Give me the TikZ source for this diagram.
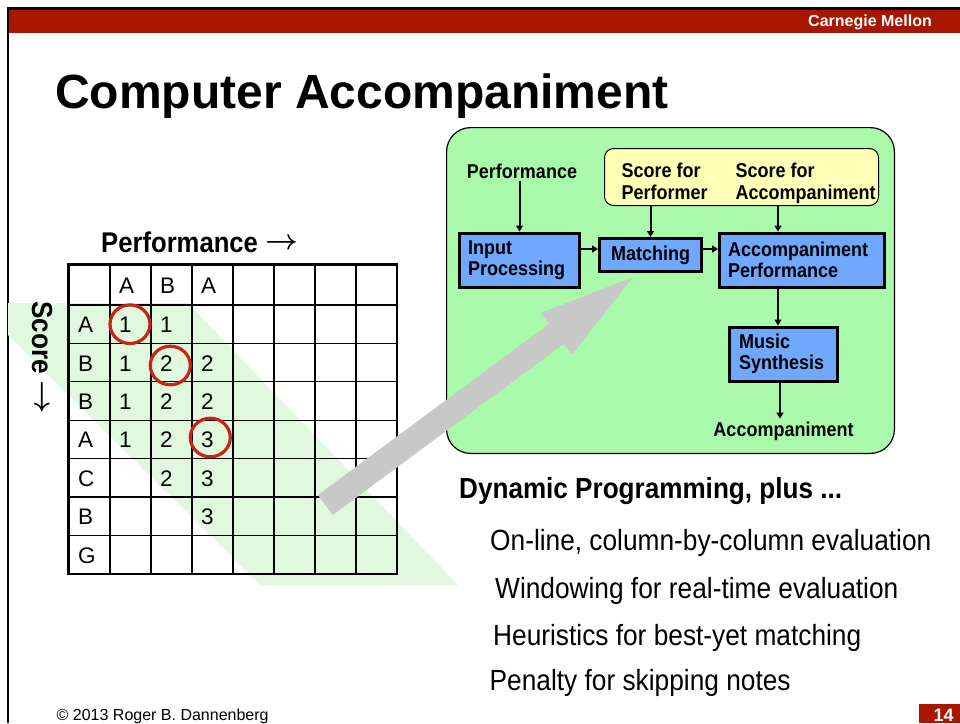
\RequirePackage{fix-cm}
\documentclass[tikz,border=0pt]{standalone}
\usepackage{fontspec}
\setmainfont{Liberation Sans}
\newfontfamily\cond{Liberation Sans}[FakeStretch=0.9]
\usetikzlibrary{arrows.meta}
\definecolor{cmured}{RGB}{168,22,0}
\definecolor{bandgreen}{RGB}{224,248,222}
\definecolor{boxgreen}{RGB}{170,250,172}
\definecolor{boxyellow}{RGB}{255,255,182}
\definecolor{boxblue}{RGB}{112,168,255}
\definecolor{circred}{RGB}{200,35,20}
\definecolor{arrowgray}{RGB}{200,200,200}
\newcommand{\bigarr}{\raisebox{2.5pt}{\boldmath$\rightarrow$}}
\begin{document}
\begin{tikzpicture}[x=1pt,y=-1pt,
  cell/.style={anchor=base west, inner sep=0pt, font=\fontsize{22.5}{24}\selectfont},
  blk/.style={draw=black, line width=3pt, fill=boxblue, font=\cond\bfseries\fontsize{20}{20.5}\selectfont, align=left, inner xsep=8.5pt, inner ysep=0pt, minimum height=54pt},
  lbl/.style={font=\cond\bfseries\fontsize{20}{21.7}\selectfont, inner sep=0pt, outer sep=3pt},
  flow/.style={line width=2pt, -{Triangle[length=6pt,width=7pt]}},
  bodytext/.style={anchor=base west, inner sep=0pt, font=\cond\fontsize{29.2}{30}\selectfont},
  ring/.style={draw=circred, line width=3.2pt}
]
\fill[white] (0,0) rectangle (960,723);
\useasboundingbox (0,0) rectangle (960,723);
% header bar and frame
\fill[cmured] (8.7,10) rectangle (960,33);
\draw[line width=2.7pt] (6.7,8.7) -- (960,8.7);
\draw[line width=2pt] (7.7,7.3) -- (7.7,723);
\node[anchor=base east, inner sep=0pt, text=white, font=\bfseries\fontsize{16}{16}\selectfont] (cmu) at (932,26.7) {Carnegie Mellon};
\node[anchor=base west, inner sep=0pt, font=\bfseries\fontsize{48}{48}\selectfont] (title) at (55,108.3) {Computer Accompaniment};

% diagonal band
\fill[bandgreen] (8,303) -- (188,303) -- (458,585) -- (260,585) -- (8,335) -- cycle;

% grid
\foreach \gx in {110,151,192,233,274,315,356}
  \draw[line width=1.3pt] (\gx,264.5) -- (\gx,573.8);
\foreach \gy in {305,343.4,381.8,420.2,458.6,497,535.4}
  \draw[line width=1.3pt] (68.5,\gy) -- (397,\gy);
\draw[line width=2.6pt] (68.5,264.5) rectangle (397,573.8);

% grid texts
\foreach \cx/\cy/\ct [count=\ci] in {
  119/293/A, 160/293/B, 201/293/A,
  78/332.7/A, 119/332.7/1, 160/332.7/1,
  78/371.1/B, 119/371.1/1, 160/371.1/2, 201/371.1/2,
  78/409.5/B, 119/409.5/1, 160/409.5/2, 201/409.5/2,
  78/447.9/A, 119/447.9/1, 160/447.9/2, 201/447.9/3,
  78/486.3/C, 160/486.3/2, 201/486.3/3,
  78/524.7/B, 201/524.7/3,
  78/563.1/G}
  \node[cell] (cell\ci) at (\cx,\cy) {\ct};

% red rings
\draw[ring] (130,324.2) ellipse [x radius=20, y radius=19.3];
\draw[ring] (170.3,365.5) ellipse [x radius=20, y radius=19.3];
\draw[ring] (210.3,437.5) ellipse [x radius=20, y radius=19.3];

% axis labels
\node[anchor=base west, inner sep=0pt, font=\cond\bfseries\fontsize{28.5}{30}\selectfont] (perfhdr) at (101,252) {Performance \bigarr};
\node[rotate=-90, anchor=base west, inner sep=0pt, font=\cond\bfseries\fontsize{29}{30}\selectfont] (scorelbl) at (32,301) {Score \bigarr};

% green panel
\node[draw=black, line width=1.2pt, fill=boxgreen, rounded corners=24pt, minimum width=447.8pt, minimum height=325.8pt, inner sep=0pt] (panel) at (670.5,290.5) {};
\node[draw=black, line width=1pt, fill=boxyellow, rounded corners=9pt, minimum width=274pt, minimum height=57pt, inner sep=0pt] (yel) at (741.5,177) {};
\node[lbl, anchor=base west, align=left] (sfp) at (618.5,199) {Score for\\Performer};
\node[lbl, anchor=base west, align=left] (sfa) at (732.5,199) {Score for\\Accompaniment};
\node[lbl, anchor=base] (perfin) at (522,178) {Performance};

\node[blk, text width=103pt] (inp) at (519.5,260) {Input\\Processing};
\node[blk, text width=85pt, align=center, minimum height=33pt] (match) at (650.5,255) {Matching};
\node[blk, text width=148pt] (accp) at (802,260) {Accompaniment\\Performance};
\node[blk, text width=89pt, inner xsep=9.5pt] (music) at (783.5,354) {Music\\Synthesis};
\node[lbl, anchor=base] (accout) at (783.5,436) {Accompaniment};

\path (accp.north) ++(-24,0) coordinate (accin);
\path (inp.east) ++(0,-11) coordinate (io);
\path (match.east) ++(0,-6) coordinate (mo);
\path (music.south) ++(-3.5,0) coordinate (musout);

\draw[flow] (perfin.south -| inp.north) -- (inp.north);
\draw[flow] (match.north |- yel.south) -- (match.north);
\draw[flow] (accin |- yel.south) -- (accin);
\draw[flow] (io) -- (io -| match.west);
\draw[flow] (mo) -- (mo -| accp.west);
\draw[flow] (accin |- accp.south) -- (accin |- music.north);
\draw[flow] (musout) -- (musout |- accout.north);

% big gray arrow
\fill[arrowgray] (317.9,495.0) -- (549.0,323.9) -- (540.9,313.0) -- (632.7,277.3) -- (571.9,354.8) -- (563.8,343.9) -- (332.7,515.0) -- cycle;

% right text
\node[anchor=base west, inner sep=0pt, font=\cond\bfseries\fontsize{29}{30}\selectfont] (dp) at (459,498) {Dynamic Programming, plus ...};
\node[bodytext] (b1) at (490,550) {On-line, column-by-column evaluation};
\node[bodytext] (b2) at (495,598.3) {Windowing for real-time evaluation};
\node[bodytext] (b3) at (493,645) {Heuristics for best-yet matching};
\node[bodytext] (b4) at (489.5,690) {Penalty for skipping notes};

% footer
\node[anchor=base west, inner sep=0pt, font=\fontsize{16}{16}\selectfont] (copy) at (56.5,720.7) {© 2013 Roger B. Dannenberg};
\fill[cmured] (919.3,704) rectangle (960,723);
\node[anchor=base, inner sep=0pt, text=white, font=\bfseries\fontsize{18}{18}\selectfont] (pnum) at (943.5,721) {14};
\end{tikzpicture}
\end{document}
